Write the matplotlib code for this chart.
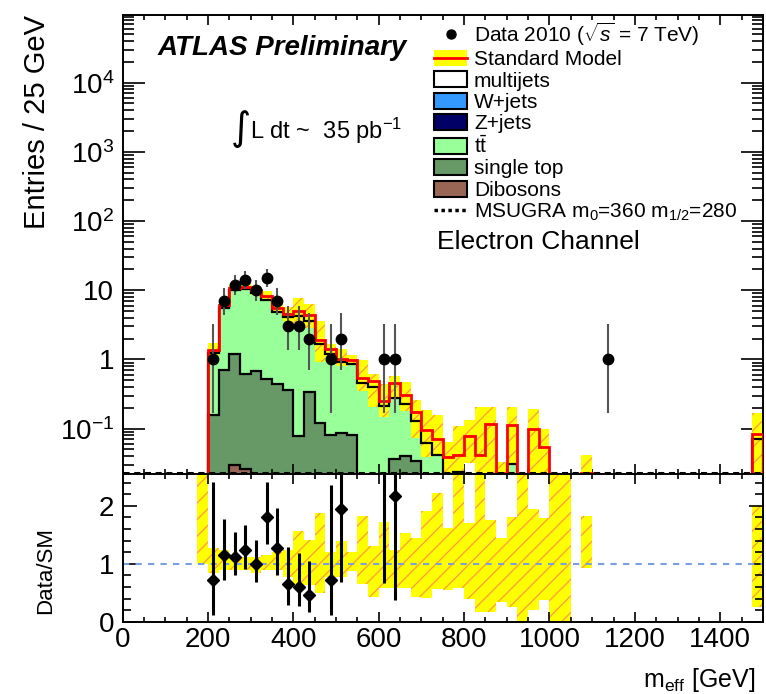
import numpy as np
import matplotlib
matplotlib.use('Agg')
import matplotlib.pyplot as plt
from matplotlib.patches import Patch
from matplotlib.lines import Line2D
from matplotlib.ticker import FixedLocator, MultipleLocator, FuncFormatter, NullFormatter

plt.rcParams['font.family'] = ['Liberation Sans', 'DejaVu Sans']
plt.rcParams['mathtext.fontset'] = 'custom'
plt.rcParams['mathtext.rm'] = 'Liberation Sans'
plt.rcParams['mathtext.it'] = 'Liberation Sans:italic'
plt.rcParams['mathtext.bf'] = 'Liberation Sans:bold'
plt.rcParams['hatch.linewidth'] = 0.9

# 25 GeV bins from 0 to 1500 GeV
edges = np.arange(0, 1525, 25)

# stacked backgrounds (per bin, entries)
ttbar = [0, 0, 0, 0, 0, 0, 0, 0, 1.09, 4.89,
         8.89, 9.75, 8.32, 6.78, 4.46, 3.79, 4.22, 3.26, 1.53, 1.12,
         0.83, 0.78, 0.46, 0.40, 0.21, 0.244, 0.19, 0.096, 0.061, 0.042,
         0, 0.024, 0, 0, 0, 0, 0.031, 0, 0, 0,
         0, 0, 0, 0, 0, 0, 0, 0, 0, 0,
         0, 0, 0, 0, 0, 0, 0, 0, 0, 0.07]
single_top = [0, 0, 0, 0, 0, 0, 0, 0, 0.158, 0.71,
              1.18, 0.594, 0.68, 0.525, 0.445, 0.356, 0.079, 0.336, 0.119, 0.082,
              0.087, 0.082, 0, 0, 0, 0.036, 0.040, 0.034, 0, 0,
              0, 0, 0, 0, 0, 0, 0, 0, 0, 0,
              0, 0, 0, 0, 0, 0, 0, 0, 0, 0,
              0, 0, 0, 0, 0, 0, 0, 0, 0, 0]
dibosons = [0, 0, 0, 0, 0, 0, 0, 0, 0, 0,
            0.030, 0.026, 0, 0, 0, 0, 0, 0, 0, 0,
            0, 0, 0, 0, 0, 0, 0, 0, 0, 0,
            0, 0, 0, 0, 0, 0, 0, 0, 0, 0,
            0, 0, 0, 0, 0, 0, 0, 0, 0, 0,
            0, 0, 0, 0, 0, 0, 0, 0, 0, 0]

# total Standard Model prediction
sm_total = [0, 0, 0, 0, 0, 0, 0, 0, 1.37, 6.1,
            10.7, 11.3, 10.1, 8.3, 5.5, 4.6, 5.0, 4.4, 1.9, 1.4,
            1.03, 0.98, 0.535, 0.48, 0.254, 0.46, 0.307, 0.176, 0.096, 0.070,
            0.039, 0.042, 0.079, 0.042, 0.117, 0.023, 0.113, 0, 0.098, 0.055,
            0, 0, 0, 0.023, 0, 0, 0, 0, 0, 0,
            0, 0, 0, 0, 0, 0, 0, 0, 0, 0.084]

# relative SM uncertainty band (lower / upper edge of ratio band)
band_lo = [0, 0, 0, 0, 0, 0, 0, 1.0, 0.84, 0.90,
           0.90, 0.90, 0.84, 0.90, 0.90, 0.78, 0.66, 0.64, 0.49, 0.78,
           0.78, 0.87, 0.66, 0.43, 0.58, 0.58, 0.58, 0.42, 0.41, 0.57,
           0.55, 0.58, 0.40, 0.17, 0.17, 0.35, 0.26, 0.0, 0.20, 0.38,
           0.0, 0.0, 0, 0.93, 0, 0, 0, 0, 0, 0,
           0, 0, 0, 0, 0, 0, 0, 0, 0, 0.26]
band_hi = [0, 0, 0, 0, 0, 0, 0, 3.0, 1.27, 1.24,
           1.16, 1.12, 1.12, 1.16, 1.20, 1.24, 1.56, 1.42, 1.88, 1.20,
           1.39, 1.20, 1.82, 1.30, 1.73, 1.24, 1.53, 1.45, 1.91, 2.23,
           1.62, 2.6, 1.70, 4.9, 1.76, 1.45, 1.80, 3.0, 1.94, 1.79,
           3.0, 3.0, 0, 1.82, 0, 0, 0, 0, 0, 0,
           0, 0, 0, 0, 0, 0, 0, 0, 0, 1.99]

# MSUGRA m0=360 m1/2=280 signal (below the plotted range everywhere)
msugra = [0.0] * 60

# data 2010
data_x = [212.5, 237.5, 262.5, 287.5, 312.5, 337.5, 362.5, 387.5, 412.5, 437.5,
          487.5, 512.5, 612.5, 637.5, 1137.5]
data_n = [1, 7, 12, 14, 10, 15, 7, 3, 3, 2, 1, 2, 1, 1, 1]
data_lo = [0.17, 4.42, 8.57, 10.29, 6.89, 11.17, 4.42, 1.37, 1.37, 0.71,
           0.17, 0.71, 0.17, 0.17, 0.17]
data_hi = [3.30, 10.77, 16.57, 18.84, 14.27, 19.96, 10.77, 5.92, 5.92, 4.64,
           3.30, 4.64, 3.30, 3.30, 3.30]

ymin, ymax = 0.0221, 9.4e4
floor = 1e-4

tt = np.array(ttbar)
st = np.array(single_top)
db = np.array(dibosons)
sm = np.array(sm_total)
blo = np.array(band_lo)
bhi = np.array(band_hi)
dx = np.array(data_x)
dn = np.array(data_n, dtype=float)
dlo = np.array(data_lo)
dhi = np.array(data_hi)

c1 = db
c2 = db + st
c3 = db + st + tt

def fl(v):
    return np.where(v > 0, v, floor)

fig = plt.figure(figsize=(7.66, 6.94), dpi=100)
ax = fig.add_axes([0.160, 0.317, 0.836, 0.661])
rax = fig.add_axes([0.160, 0.104, 0.836, 0.213], sharex=ax)

ax.set_yscale('log')

# stack
for cum, col in [(c3, '#99ff99'), (c2, '#669966'), (c1, '#996655')]:
    ax.stairs(fl(cum), edges, baseline=floor, fill=True, color=col, lw=0, zorder=1)

# SM uncertainty band
m = sm > 0
ax.bar(edges[:-1][m], (sm * (bhi - blo))[m], bottom=(sm * blo)[m], width=25, align='edge',
       color='#ffff00', edgecolor='#ff9a3c', lw=0, hatch='//', zorder=2)

for cum in [c3, c2, c1]:
    ax.stairs(fl(cum), edges, baseline=floor, color='k', lw=1.6, zorder=2.5)

ax.stairs(fl(sm), edges, baseline=floor, color='#ff0000', lw=2, zorder=3)
ax.stairs(np.maximum(msugra, ymin * 1.05), edges, baseline=None, color='k',
          ls=(0, (2, 1.5)), lw=2.2, zorder=3.5)

ax.errorbar(dx, dn, yerr=[dn - dlo, dhi - dn], fmt='o', color='k', ms=7.5,
            ecolor='#555555', elinewidth=1.5, capsize=0, zorder=5)

ax.set_xlim(0, 1500)
ax.set_ylim(ymin, ymax)
ax.yaxis.set_major_locator(FixedLocator([0.1, 1, 10, 100, 1000, 10000]))
minors = [k * 10.0 ** e for e in range(-2, 5) for k in range(2, 10)]
ax.yaxis.set_minor_locator(FixedLocator(minors))
labels = {0.1: r'$10^{-1}$', 1: '1', 10: '10', 100: r'$10^{2}$', 1000: r'$10^{3}$', 10000: r'$10^{4}$'}
ax.yaxis.set_major_formatter(FuncFormatter(lambda v, p: labels.get(round(v, 1) if v < 1 else int(round(v)), '')))
ax.yaxis.set_minor_formatter(NullFormatter())
ax.xaxis.set_major_locator(MultipleLocator(200))
ax.xaxis.set_minor_locator(MultipleLocator(50))

ax.tick_params(axis='both', which='both', direction='in', top=True, right=True, width=1.2)
ax.tick_params(axis='y', which='major', length=16, labelsize=20, pad=6)
ax.tick_params(axis='y', which='minor', length=8)
ax.tick_params(axis='x', which='major', length=7)
ax.tick_params(axis='x', which='minor', length=3.6)
ax.tick_params(labelbottom=False)
for s in ax.spines.values():
    s.set_linewidth(1.4)

ax.set_ylabel('Entries / 25 GeV', fontsize=21, loc='top')
ax.yaxis.set_label_coords(-0.112, 1.0)

ax.text(0.054, 0.928, 'ATLAS Preliminary', fontsize=20, fontweight='bold', style='italic',
        transform=ax.transAxes, va='center')
ax.text(0.185, 0.752, '\u222b', fontsize=28, family='DejaVu Sans', transform=ax.transAxes,
        va='center', ha='center')
ax.text(0.199, 0.749, r'L dt ~  35 pb$^{-1}$', fontsize=17, transform=ax.transAxes, va='center')
ax.text(0.491, 0.505, 'Electron Channel', fontsize=19, transform=ax.transAxes, va='center')

handles = [
    Line2D([], [], marker='o', color='k', ls='none', ms=6.5),
    (Patch(facecolor='#ffff00', edgecolor='none'), Line2D([], [], color='#ff0000', lw=2)),
    Patch(facecolor='white', edgecolor='k', lw=1.5),
    Patch(facecolor='#3399ff', edgecolor='k', lw=1.5),
    Patch(facecolor='#000066', edgecolor='k', lw=1.5),
    Patch(facecolor='#99ff99', edgecolor='k', lw=1.5),
    Patch(facecolor='#669966', edgecolor='k', lw=1.5),
    Patch(facecolor='#996655', edgecolor='k', lw=1.5),
    Line2D([], [], color='k', ls=(0, (1, 1)), lw=2.5),
]
names = [r'Data 2010 ($\sqrt{s}$ = 7 TeV)', 'Standard Model', 'multijets', 'W+jets', 'Z+jets',
         r'$\mathrm{t\bar{t}}$', 'single top', 'Dibosons', r'MSUGRA m$_0$=360 m$_{1/2}$=280']
ax.legend(handles, names, loc='upper left', bbox_to_anchor=(0.487, 0.988), borderaxespad=0,
          borderpad=0, handletextpad=0.35, handlelength=1.55, handleheight=0.8, fontsize=15,
          labelspacing=0.1, frameon=False)

# ratio panel
bins = (dx // 25).astype(int)
sm_at = sm[bins]
ok = sm_at > 0
ratio = dn[ok] / sm_at[ok]
r_lo = (dn[ok] - dlo[ok]) / sm_at[ok]
r_hi = (dhi[ok] - dn[ok]) / sm_at[ok]

mb = bhi > 0
rax.bar(edges[:-1][mb], (bhi - blo)[mb], bottom=blo[mb], width=25, align='edge',
        color='#ffff00', edgecolor='#ff9a3c', lw=0, hatch='//', zorder=1)
rax.axhline(1, color='#7a9ee0', ls=(0, (3, 3)), lw=1.5, zorder=2)
rax.errorbar(dx[ok], ratio, yerr=[r_lo, r_hi], fmt='D', color='k', ms=6,
             ecolor='k', elinewidth=2.2, capsize=0, zorder=3)

rax.set_ylim(0, 2.55)
rax.yaxis.set_major_locator(FixedLocator([0, 1, 2]))
rax.yaxis.set_minor_locator(MultipleLocator(0.2))
rax.xaxis.set_major_locator(MultipleLocator(200))
rax.xaxis.set_minor_locator(MultipleLocator(50))
rax.tick_params(axis='both', which='both', direction='in', top=True, right=True, width=1.2)
rax.tick_params(axis='y', which='major', length=10, labelsize=20, pad=6)
rax.tick_params(axis='y', which='minor', length=5.5)
rax.tick_params(axis='x', which='major', length=7, labelsize=20, pad=4)
rax.tick_params(axis='x', which='minor', length=3.6)
for s in rax.spines.values():
    s.set_linewidth(1.4)

rax.set_ylabel('Data/SM', fontsize=16)
rax.yaxis.set_label_coords(-0.103, 0.345)
rax.set_xlabel(r'm$_{\mathrm{eff}}$ [GeV]', fontsize=18, loc='right')
rax.xaxis.set_label_coords(0.988, -0.30)

fig.savefig('out.png', dpi=100)
